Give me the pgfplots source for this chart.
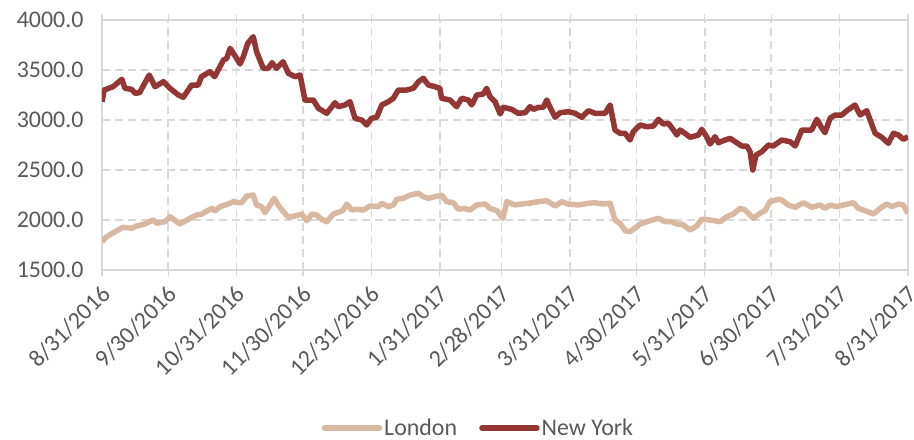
\documentclass[border=0pt]{standalone}
\usepackage{pgfplots}
\pgfplotsset{compat=1.18}
\usepackage{fontspec}
\setmainfont{Carlito}
\definecolor{lon}{HTML}{D9B8A2}
\definecolor{ny}{HTML}{943634}
\definecolor{gridc}{HTML}{D9D9D9}
\definecolor{txt}{HTML}{595959}
\begin{document}
\begin{tikzpicture}
\begin{axis}[
  at={(0,0)}, anchor=south west,
  width=806bp, height=250bp, scale only axis,
  xmin=0, xmax=365, ymin=1500, ymax=4000,
  ytick={1500,2000,2500,3000,3500,4000},
  xtick={0,30,61,91,122,153,181,212,242,273,303,334,365},
  xticklabels={8/31/2016,9/30/2016,10/31/2016,11/30/2016,12/31/2016,1/31/2017,2/28/2017,3/31/2017,4/30/2017,5/31/2017,6/30/2017,7/31/2017,8/31/2017},
  x tick label style={rotate=45, anchor=north east, inner sep=2bp, xshift=-5bp, yshift=-2bp},
  y tick label style={/pgf/number format/fixed, /pgf/number format/fixed zerofill, /pgf/number format/precision=1, /pgf/number format/1000 sep={}, xshift=-15bp},
  /pgf/number format/assume math mode=true,
  ticklabel style={font=\fontsize{24}{28}\selectfont, text=txt},
  grid=major,
  major grid style={gridc, line width=1.5bp, dash pattern=on 8bp off 5bp},
  axis line style={gridc, line width=1.2bp},
  tick style={gridc, line width=1.2bp},
  xtick align=outside, major tick length=6bp,
  ytick style={draw=none},
  legend style={at={(axis description cs:0.467,-0.632)}, anchor=center, draw=none, fill=none,
    legend columns=2, font=\fontsize{24}{28}\selectfont, text=txt,
    /tikz/every even column/.append style={column sep=20bp}},
  legend image code/.code={\draw[#1, line cap=round] (0bp,0bp) -- (55bp,0bp);},
  legend cell align=left,
]
\addplot[lon, line width=5.5bp, line join=round] table {
0 1783
2.1 1833
5.9 1883
9.6 1927
13.4 1917
15.7 1940
19.4 1960
23.2 2000
24.8 1967
28.5 1983
30.8 2033
35.3 1960
38.4 2000
42.9 2050
45.2 2060
49.7 2117
51.2 2093
53.4 2133
57.2 2160
59.5 2183
61.7 2173
63.3 2173
65.5 2240
68.5 2250
70 2150
72.3 2133
73.8 2073
76.1 2150
78 2217
79.8 2150
82.1 2083
84.4 2027
87.4 2040
90.4 2060
92.7 1993
95 2060
97.2 2050
99.5 2007
101.8 1983
104.8 2060
107.8 2083
109.3 2100
110.8 2160
113.1 2100
115.3 2107
118.3 2100
121.4 2140
125.1 2133
126.7 2167
129.7 2133
131.9 2150
133.5 2207
136.5 2217
139.5 2250
143.3 2267
145.5 2233
147.8 2217
150.8 2233
153.8 2250
156.1 2183
159.1 2173
161.4 2107
163.7 2117
166.7 2100
169.7 2150
173.5 2160
175.7 2117
178.8 2093
181.5 2017
183.3 2183
187 2150
190 2160
193 2167
197.6 2183
201.4 2193
205.2 2140
208.2 2183
211.2 2160
215.7 2150
220.2 2167
223.3 2173
226.3 2160
230.1 2167
232.3 2000
234.6 1967
236.9 1893
239.1 1883
242.2 1933
243.7 1960
246.7 1983
252 2017
255 1983
258 1983
260.3 1960
262.6 1960
266.3 1900
269.3 1940
271.6 2007
275.4 2000
279.9 1983
282.9 2033
285.9 2060
289 2117
291.2 2100
295 2017
298 2067
300.3 2093
302.5 2183
306.3 2207
307.8 2200
310.8 2150
313.9 2127
317.6 2173
321.4 2127
325.2 2150
327.4 2117
329.7 2150
332.7 2133
335.7 2150
340.3 2173
342.5 2117
345.6 2093
349.4 2060
352.4 2117
355.4 2160
357.7 2133
360.6 2160
362.9 2150
364.9 2067
};
\addlegendentry{London}
\addplot[ny, line width=5.5bp, line join=round] table {
0 3183
1 3300
5 3333
9 3407
10.4 3317
13.4 3307
15 3267
17 3273
21.4 3450
24 3333
27.8 3383
30.8 3317
34.6 3250
36.8 3227
40.6 3350
43.6 3350
45 3433
48.9 3483
51 3433
55 3600
56.5 3617
58 3717
60 3650
62.5 3560
64 3633
66 3767
68.5 3833
70 3683
73 3517
75.3 3517
77 3573
79 3517
82 3583
84.4 3467
87.4 3433
89.7 3450
91.9 3200
95.7 3200
98 3117
101.8 3067
105.5 3173
107 3133
110 3150
112.3 3183
114.6 3017
117.6 3000
119.9 2950
122 3017
124.4 3027
126.7 3150
129.7 3183
131.9 3217
134.2 3300
138 3300
141 3317
143.3 3383
145.5 3417
147.8 3350
150.8 3333
153 3317
153.8 3217
157.6 3200
160.6 3133
162.9 3217
165.9 3200
167.4 3150
169.7 3250
172.7 3260
174.2 3317
175.7 3233
178 3183
180.3 3060
181.7 3127
185.5 3107
188.5 3067
191.6 3073
193.8 3133
195.4 3107
197.6 3127
199.9 3127
201.4 3200
202.9 3127
205.2 3027
207.4 3073
211.2 3083
214.2 3067
217.3 3027
220.2 3093
223.3 3067
227.8 3067
230.1 3150
232.3 2900
234.6 2867
236.9 2867
239.1 2800
240.6 2883
243.7 2950
246.7 2933
249.7 2940
252 3007
254.2 2960
256.5 2967
258.8 2900
260.3 2850
261.8 2900
264 2867
266.3 2827
270.1 2850
271.6 2907
273.8 2833
275.4 2760
277.6 2833
279.1 2773
281.4 2793
284.4 2817
287.4 2773
289.7 2740
292 2740
293.5 2683
294.7 2500
296.2 2650
298.8 2683
301.8 2750
304 2740
307.8 2800
311.6 2783
313.9 2740
316.9 2900
321.4 2900
323.7 3007
325.6 2933
327.4 2873
329.7 3017
332 3050
335 3050
337.3 3093
341 3150
343.3 3050
346.3 3093
350.1 2867
353.1 2827
356.1 2767
358.4 2867
360.6 2850
362.9 2807
365 2833
};
\addlegendentry{New York}
\end{axis}
\pgfresetboundingbox
\useasboundingbox (-102bp,-170bp) rectangle (812bp,270bp);
\end{tikzpicture}
\end{document}
